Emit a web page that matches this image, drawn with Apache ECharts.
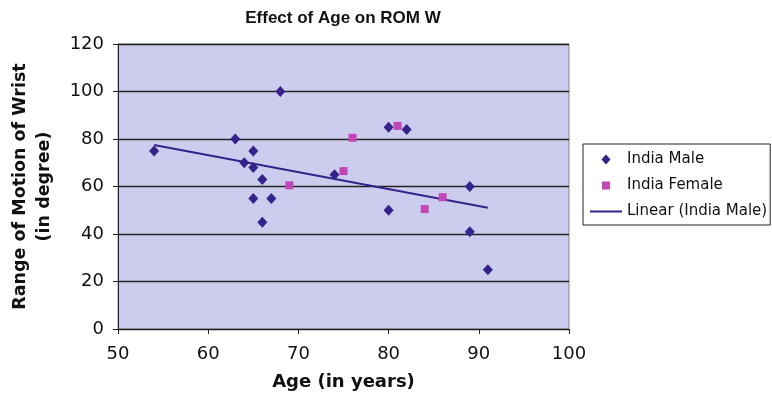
<!DOCTYPE html>
<html>
<head>
<meta charset="utf-8">
<script src="https://cdn.jsdelivr.net/npm/echarts@6/dist/echarts.min.js"></script>
<style>
  html, body { margin: 0; padding: 0; background: #fff; }
  #chart { width: 772px; height: 402px; }
</style>
</head>
<body>
<div id="chart"></div>
<script>
// Age (years) and wrist range of motion (degrees)
const maleAge = [54, 63, 68, 65, 64, 65, 66, 65, 67, 66, 74, 80, 82, 89, 80, 89, 91];
const maleRom = [75, 80, 100, 75, 70, 68, 63, 55, 55, 45, 65, 85, 84, 60, 50, 41, 25];
const femaleAge = [69, 75, 76, 81, 86, 84];
const femaleRom = [60.5, 66.5, 80.5, 85.5, 55.5, 50.5];

const xTicks = [50, 60, 70, 80, 90, 100];
const yTicks = [0, 20, 40, 60, 80, 100, 120];

const FONT = 'DejaVu Sans, Verdana, sans-serif';
const TITLE_FONT = 'Liberation Sans, Arial, sans-serif';
const MALE = '#33238a';
const FEMALE = '#c247b6';

// legend glyphs drawn inside a 32x10 box (tiny corner dots pin the box size)
const BOX = ' M0,0 h0.01 v0.01 h-0.01 Z M31.99,9.99 h0.01 v0.01 h-0.01 Z';
const ICON_DIAMOND = 'path://M16,0 L20.5,5 L16,10 L11.5,5 Z' + BOX;
const ICON_SQUARE = 'path://M12,1 L20,1 L20,9 L12,9 Z' + BOX;
const ICON_LINE = 'path://M0,4 L32,4 L32,6 L0,6 Z' + BOX;

function pairs(xs, ys) { return xs.map((x, i) => [x, ys[i]]); }

// least-squares fit over the male points, drawn across their age range
function linearFit(xs, ys) {
  const n = xs.length;
  const mx = xs.reduce((a, b) => a + b, 0) / n;
  const my = ys.reduce((a, b) => a + b, 0) / n;
  let sxy = 0, sxx = 0;
  for (let i = 0; i < n; i++) {
    sxy += (xs[i] - mx) * (ys[i] - my);
    sxx += (xs[i] - mx) * (xs[i] - mx);
  }
  const slope = sxy / sxx;
  const icpt = my - slope * mx;
  const lo = Math.min(...xs), hi = Math.max(...xs);
  return [[lo, icpt + slope * lo], [hi, icpt + slope * hi]];
}

const chart = echarts.init(document.getElementById('chart'), null, { renderer: 'canvas' });

chart.setOption({
  animation: false,
  backgroundColor: '#ffffff',
  textStyle: { fontFamily: FONT },
  title: {
    text: 'Effect of Age on ROM W',
    left: 338,
    textAlign: 'center',
    top: 5,
    textStyle: { fontFamily: TITLE_FONT, fontSize: 17, fontWeight: 'bold', color: '#111' }
  },
  grid: {
    left: 115, top: 44, right: 203, bottom: 73,
    show: true,
    backgroundColor: '#ccccee',
    borderColor: '#8a8a8a',
    borderWidth: 1
  },
  legend: {
    orient: 'vertical',
    left: 583, top: 144,
    padding: [8, 3, 6, 7],
    itemGap: 11,
    itemWidth: 32,
    itemHeight: 10,
    borderColor: '#222',
    borderWidth: 1,
    backgroundColor: '#fff',
    textStyle: { fontFamily: FONT, fontSize: 15, color: '#111' },
    data: [
      { name: 'India Male', icon: ICON_DIAMOND },
      { name: 'India Female', icon: ICON_SQUARE },
      { name: 'Linear (India Male)', icon: ICON_LINE }
    ]
  },
  xAxis: {
    type: 'value',
    min: xTicks[0], max: xTicks[xTicks.length - 1], interval: 10,
    name: 'Age (in years)',
    nameLocation: 'middle',
    nameGap: 44,
    nameTextStyle: { fontFamily: FONT, fontSize: 18, fontWeight: 'bold', color: '#111' },
    axisLine: { show: true, lineStyle: { color: '#222', width: 1 } },
    axisTick: { show: true, inside: false, length: 5, lineStyle: { color: '#222' } },
    axisLabel: { fontFamily: FONT, fontSize: 18, color: '#111', margin: 16 },
    splitLine: { show: false }
  },
  yAxis: {
    type: 'value',
    min: yTicks[0], max: yTicks[yTicks.length - 1], interval: 20,
    name: 'Range of Motion of Wrist\n(in degree)',
    nameLocation: 'middle',
    nameGap: 62,
    nameRotate: 90,
    nameTextStyle: { fontFamily: FONT, fontSize: 17.5, fontWeight: 'bold', color: '#111', lineHeight: 24 },
    axisLine: { show: true, lineStyle: { color: '#222', width: 1 } },
    axisTick: { show: true, inside: false, length: 5, lineStyle: { color: '#222' } },
    axisLabel: { fontFamily: FONT, fontSize: 18, color: '#111', margin: 14 },
    splitLine: { show: true, lineStyle: { color: '#222', width: 1.3 } }
  },
  series: [
    {
      name: 'Linear (India Male)',
      type: 'line',
      data: linearFit(maleAge, maleRom),
      symbol: 'none',
      lineStyle: { color: MALE, width: 2 },
      itemStyle: { color: MALE },
      z: 2
    },
    {
      name: 'India Male',
      type: 'scatter',
      data: pairs(maleAge, maleRom),
      symbol: 'diamond',
      symbolSize: [10, 11],
      itemStyle: { color: MALE, opacity: 1 },
      z: 3
    },
    {
      name: 'India Female',
      type: 'scatter',
      data: pairs(femaleAge, femaleRom),
      symbol: 'rect',
      symbolSize: 8,
      itemStyle: { color: FEMALE, opacity: 1 },
      z: 3
    }
  ]
});
</script>
</body>
</html>
